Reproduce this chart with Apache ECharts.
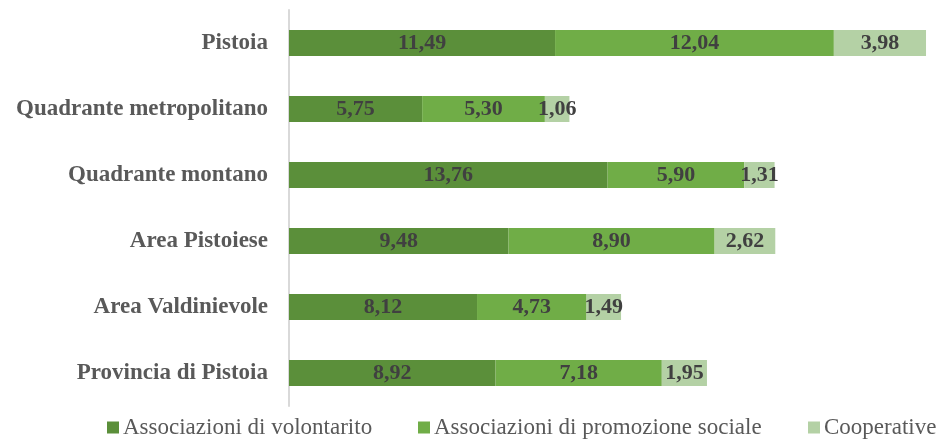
<!DOCTYPE html>
<html>
<head>
<meta charset="utf-8">
<script src="https://cdn.jsdelivr.net/npm/echarts@6/dist/echarts.min.js"></script>
<style>
  html, body { margin: 0; padding: 0; background: #ffffff; }
  #chart { width: 942px; height: 439px; }
</style>
</head>
<body>
<div id="chart"></div>
<script>
// Territorial areas (drawn top to bottom)
const categories = [
  'Pistoia',
  'Quadrante metropolitano',
  'Quadrante montano',
  'Area Pistoiese',
  'Area Valdinievole',
  'Provincia di Pistoia'
];
const volontariato = [11.49, 5.75, 13.76, 9.48, 8.12, 8.92];
const promozioneSociale = [12.04, 5.30, 5.90, 8.90, 4.73, 7.18];
const cooperative = [3.98, 1.06, 1.31, 2.62, 1.49, 1.95];
const seriesNames = ['Associazioni di volontarito', 'Associazioni di promozione sociale', 'Cooperative'];

const colors = ['#5b8f3a', '#70ad47', '#b4d1a5'];
const serif = '"Liberation Serif", "DejaVu Serif", serif';

const fmt = v => v.toFixed(2).replace('.', ',');

function makeSeries(name, data, color) {
  return {
    name: name,
    type: 'bar',
    stack: 'tot',
    data: data,
    barWidth: 26,
    itemStyle: { color: color },
    label: {
      show: true,
      position: 'inside',
      formatter: p => fmt(p.value),
      fontFamily: serif,
      fontWeight: 'bold',
      fontSize: 22,
      color: '#404040'
    },
    emphasis: { disabled: true }
  };
}

// one legend block per series, placed along the bottom row
function makeLegend(name, left) {
  return {
    top: 416,
    left: left,
    padding: 0,
    itemWidth: 12,
    itemHeight: 12,
    icon: 'rect',
    selectedMode: false,
    textStyle: { fontFamily: serif, fontSize: 23, color: '#595959', padding: [0, 0, 0, -1] },
    data: [name]
  };
}

const chart = echarts.init(document.getElementById('chart'), null, { renderer: 'canvas' });
chart.setOption({
  animation: false,
  color: colors,
  grid: { left: 289, top: 10, width: 653, height: 396, containLabel: false },
  xAxis: {
    type: 'value',
    min: 0,
    max: 28.2,
    show: false
  },
  yAxis: {
    type: 'category',
    data: categories,
    inverse: true,
    axisLine: { show: true, lineStyle: { color: '#d9d9d9', width: 2 } },
    axisTick: { show: false },
    axisLabel: {
      margin: 21,
      fontFamily: serif,
      fontWeight: 'bold',
      fontSize: 23,
      color: '#595959'
    }
  },
  legend: [
    makeLegend(seriesNames[0], 107),
    makeLegend(seriesNames[1], 418),
    makeLegend(seriesNames[2], 808)
  ],
  series: [
    makeSeries(seriesNames[0], volontariato, colors[0]),
    makeSeries(seriesNames[1], promozioneSociale, colors[1]),
    makeSeries(seriesNames[2], cooperative, colors[2])
  ]
});
</script>
</body>
</html>
